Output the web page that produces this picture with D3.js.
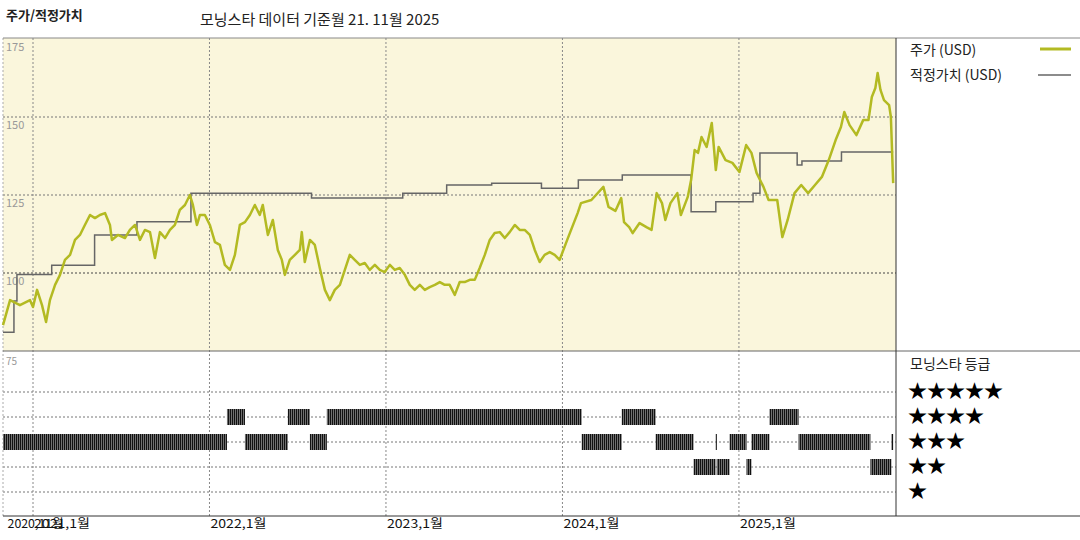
<!DOCTYPE html>
<html>
<head>
<meta charset="utf-8">
<script src="https://cdn.jsdelivr.net/npm/d3@7"></script>
<style>
  body { margin: 0; background: #fff; }
  text { font-family: "Noto Sans CJK KR", "DejaVu Sans", sans-serif; }
</style>
</head>
<body>
<div id="chart"></div>
<script>
var width = 1080;
var height = 540;

// price (USD), decimal year
var priceYears = [2020.830,2020.870,2020.926,2020.983,2021.000,2021.023,2021.051,2021.074,2021.096,2021.125,2021.153,2021.181,2021.210,2021.238,2021.266,2021.294,2021.323,2021.351,2021.379,2021.408,2021.436,2021.447,2021.481,2021.521,2021.549,2021.578,2021.606,2021.634,2021.663,2021.691,2021.719,2021.748,2021.776,2021.804,2021.832,2021.861,2021.889,2021.906,2021.929,2021.946,2021.974,2022.002,2022.031,2022.059,2022.087,2022.116,2022.144,2022.172,2022.201,2022.229,2022.257,2022.285,2022.302,2022.331,2022.359,2022.387,2022.410,2022.427,2022.455,2022.484,2022.512,2022.523,2022.540,2022.569,2022.597,2022.625,2022.654,2022.682,2022.710,2022.739,2022.767,2022.795,2022.823,2022.852,2022.880,2022.908,2022.937,2022.965,2022.993,2023.022,2023.050,2023.078,2023.107,2023.135,2023.163,2023.192,2023.220,2023.248,2023.277,2023.305,2023.333,2023.361,2023.390,2023.418,2023.446,2023.475,2023.503,2023.531,2023.560,2023.588,2023.616,2023.645,2023.673,2023.701,2023.730,2023.758,2023.786,2023.815,2023.843,2023.871,2023.899,2023.928,2023.956,2023.984,2024.027,2024.086,2024.105,2024.164,2024.232,2024.261,2024.300,2024.333,2024.349,2024.378,2024.398,2024.437,2024.476,2024.505,2024.534,2024.564,2024.583,2024.612,2024.651,2024.671,2024.710,2024.729,2024.749,2024.768,2024.788,2024.817,2024.846,2024.856,2024.869,2024.885,2024.924,2024.963,2025.003,2025.041,2025.071,2025.100,2025.139,2025.168,2025.217,2025.246,2025.276,2025.315,2025.353,2025.392,2025.431,2025.470,2025.509,2025.548,2025.578,2025.597,2025.627,2025.666,2025.704,2025.734,2025.753,2025.773,2025.786,2025.802,2025.822,2025.851,2025.861,2025.874];
var priceValues = [83.3,91.3,89.7,91.3,89.1,94.6,89.7,84.3,91.3,96.2,99.4,104.2,105.8,110.6,112.2,115.4,118.6,117.6,118.6,119.2,115.4,110.6,112.2,111.2,113.8,115.4,110.6,113.8,113.1,104.8,113.1,111.2,113.8,115.4,120.2,121.8,125.0,121.8,115.4,118.6,118.6,115.4,109.9,109.0,102.6,101.0,105.8,115.4,116.3,118.6,121.8,118.6,121.8,112.2,117.0,107.4,104.2,99.4,104.2,105.8,107.4,113.1,103.5,110.6,109.0,101.6,94.6,91.3,94.6,96.2,101.0,105.8,104.2,102.6,103.2,101.0,102.6,101.0,100.3,102.6,101.0,101.6,99.4,96.2,94.6,96.2,94.6,95.5,96.2,97.1,96.2,96.2,93.0,97.1,97.1,97.8,97.8,101.6,105.8,110.6,112.8,113.1,111.2,113.1,115.4,113.8,113.8,112.2,107.4,103.5,105.8,106.7,105.8,104.2,110.6,119.2,122.4,123.4,127.6,121.2,119.9,124.0,116.3,114.7,112.8,116.0,114.7,113.8,125.6,122.4,117.0,122.4,125.6,118.6,124.4,129.8,139.4,138.5,143.6,140.4,148.1,141.7,133.0,140.4,136.2,135.3,132.4,141.0,138.5,132.1,127.6,123.4,123.4,111.5,117.0,125.6,128.2,125.6,128.2,130.8,136.2,142.6,146.8,151.6,147.4,144.2,149.0,149.0,156.4,159.3,164.1,158.7,155.4,153.8,150.0,128.8];

// fair value (USD), step changes
var fairYears = [2020.830,2020.892,2020.909,2021.106,2021.349,2021.589,2021.895,2022.578,2023.095,2023.344,2023.599,2023.881,2024.090,2024.339,2024.729,2024.869,2025.080,2025.119,2025.330,2025.357,2025.581,2025.874];
var fairValues = [81,91,99.5,102.5,112.2,116.4,125.6,124.0,125.6,128.2,128.8,127.2,129.8,131.4,119.6,122.8,125.6,138.5,134.6,135.9,138.8,138.8];

// morningstar rating (stars), start of each period
var ratingYears = [2020.830,2022.099,2022.201,2022.444,2022.569,2022.665,2024.109,2024.336,2024.528,2024.743,2024.868,2024.874,2024.947,2025.043,2025.071,2025.173,2025.338,2025.745,2025.864,2025.874];
var ratingStars = [3,4,3,4,3,4,3,4,3,2,3,2,3,2,3,4,3,2,3,3];

var yTicks = [175, 150, 125, 100];
var gridYears = [2021, 2022, 2023, 2024, 2025];
var xLabels = [[2020.85, "2020,11월"], [2021, "2021,1월"], [2022, "2022,1월"], [2023, "2023,1월"], [2024, "2024,1월"], [2025, "2025,1월"]];
var legendStars = [5, 4, 3, 2, 1];

var left = 3, right = 896, plotTop = 38, mid = 351, bottom = 516;

var svg = d3.select("#chart").append("svg")
  .attr("width", width).attr("height", height);

var x = d3.scaleLinear().domain([2020.83, 2025.89]).range([left, right]);
var y = d3.scaleLinear().domain([75, 175]).range([mid, plotTop + 1]);
var yr = d3.scaleLinear().domain([5, 1]).range([392, 492]);

// hatch pattern for rating bars
var pat = svg.append("defs").append("pattern")
  .attr("id", "hatch").attr("patternUnits", "userSpaceOnUse")
  .attr("width", 2).attr("height", 4);
pat.append("rect").attr("width", 2).attr("height", 4).attr("fill", "#999");
pat.append("rect").attr("width", 1.3).attr("height", 4).attr("fill", "#111");

// price panel background
svg.append("rect").attr("x", left).attr("y", plotTop).attr("width", right - left).attr("height", mid - plotTop)
  .attr("fill", "#faf6dc");

// horizontal grid
svg.selectAll(".hg").data(yTicks.slice(1)).enter().append("line")
  .attr("x1", left).attr("x2", right)
  .attr("y1", function(d) { return y(d); }).attr("y2", function(d) { return y(d); })
  .attr("stroke", function(d) { return d === 100 ? "#444" : "#777"; })
  .attr("stroke-dasharray", "2,2").attr("stroke-width", 1);

svg.selectAll(".rg").data(legendStars).enter().append("line")
  .attr("x1", left).attr("x2", right)
  .attr("y1", function(d) { return yr(d); }).attr("y2", function(d) { return yr(d); })
  .attr("stroke", "#777").attr("stroke-dasharray", "2,2");

// vertical grid
svg.selectAll(".vg").data(gridYears).enter().append("line")
  .attr("x1", function(d) { return x(d); }).attr("x2", function(d) { return x(d); })
  .attr("y1", plotTop).attr("y2", bottom)
  .attr("stroke", "#888").attr("stroke-dasharray", "2,2");

svg.append("line").attr("x1", left).attr("x2", left).attr("y1", plotTop).attr("y2", bottom)
  .attr("stroke", "#aaa").attr("stroke-dasharray", "2,2");

// y tick labels
svg.selectAll(".yt").data(yTicks).enter().append("text")
  .attr("x", 6).attr("y", function(d) { return y(d) + 12; })
  .attr("font-size", 11).attr("fill", "#999")
  .text(function(d) { return d; });
svg.append("text").attr("x", 6).attr("y", mid + 14).attr("font-size", 10).attr("fill", "#999").text("75");

// fair value
var fairData = fairYears.map(function(d, i) { return [d, fairValues[i]]; });
svg.append("path").datum(fairData)
  .attr("d", d3.line().curve(d3.curveStepAfter)
    .x(function(d) { return x(d[0]); }).y(function(d) { return y(d[1]); }))
  .attr("fill", "none").attr("stroke", "#666").attr("stroke-width", 1.5);

// price
var priceData = priceYears.map(function(d, i) { return [d, priceValues[i]]; });
svg.append("path").datum(priceData)
  .attr("d", d3.line().x(function(d) { return x(d[0]); }).y(function(d) { return y(d[1]); }))
  .attr("fill", "none").attr("stroke", "#b3ba22").attr("stroke-width", 2.5)
  .attr("stroke-linejoin", "round");

// rating bars
var ratingData = ratingYears.slice(0, -1).map(function(d, i) {
  return { start: d, end: ratingYears[i + 1], stars: ratingStars[i] };
});
svg.selectAll(".rb").data(ratingData).enter().append("rect")
  .attr("x", function(d) { return x(d.start); })
  .attr("width", function(d) { return Math.max(1.2, x(d.end) - x(d.start)); })
  .attr("y", function(d) { return yr(d.stars) - 8; })
  .attr("height", 16)
  .attr("fill", "url(#hatch)");

// frame
svg.append("line").attr("x1", left).attr("x2", width).attr("y1", plotTop).attr("y2", plotTop).attr("stroke", "#888");
svg.append("line").attr("x1", left).attr("x2", width).attr("y1", mid).attr("y2", mid).attr("stroke", "#666");
svg.append("line").attr("x1", left).attr("x2", width).attr("y1", bottom).attr("y2", bottom).attr("stroke", "#333");
svg.append("line").attr("x1", right).attr("x2", right).attr("y1", plotTop).attr("y2", bottom).attr("stroke", "#333");

// x labels
svg.selectAll(".xl").data(xLabels).enter().append("text")
  .attr("x", function(d) { return x(d[0]) + 1; }).attr("y", 528)
  .attr("font-size", 12).attr("fill", "#111").attr("textLength", 56).attr("lengthAdjust", "spacingAndGlyphs")
  .text(function(d) { return d[1]; });

// titles
svg.append("text").attr("x", 6).attr("y", 20).attr("font-size", 13).attr("font-weight", "bold").attr("fill", "#222").text("주가/적정가치");
svg.append("text").attr("x", 200).attr("y", 25).attr("font-size", 15).attr("fill", "#222").text("모닝스타 데이터 기준월 21. 11월 2025");

// legend
svg.append("text").attr("x", 910).attr("y", 55).attr("font-size", 14).attr("fill", "#222").text("주가 (USD)");
svg.append("line").attr("x1", 1040).attr("x2", 1071).attr("y1", 49).attr("y2", 49).attr("stroke", "#b3ba22").attr("stroke-width", 3);
svg.append("text").attr("x", 910).attr("y", 80).attr("font-size", 14).attr("fill", "#222").text("적정가치 (USD)");
svg.append("line").attr("x1", 1038).attr("x2", 1071).attr("y1", 75).attr("y2", 75).attr("stroke", "#666").attr("stroke-width", 1.5);
svg.append("text").attr("x", 910).attr("y", 369).attr("font-size", 14).attr("fill", "#222").text("모닝스타 등급");

svg.selectAll(".ls").data(legendStars).enter().append("text")
  .attr("x", 908).attr("y", function(d) { return yr(d) + 6; })
  .attr("font-size", 19).attr("fill", "#000").attr("font-family", "DejaVu Sans")
  .text(function(d) { return "★".repeat(d); });
</script>
</body>
</html>
